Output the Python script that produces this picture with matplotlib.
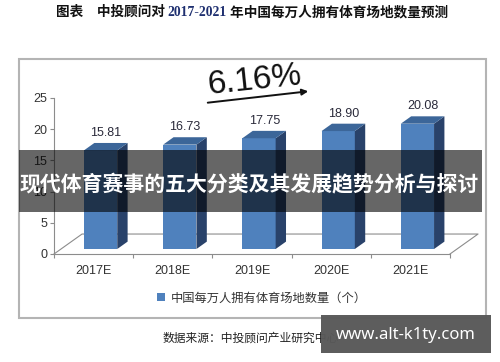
import numpy as np
import matplotlib
matplotlib.use('Agg')
import matplotlib.pyplot as plt
from matplotlib.patches import Polygon, Rectangle

plt.rcParams['font.family'] = ['Liberation Sans', 'Noto Sans CJK SC', 'DejaVu Sans']

# data
years = ['2017E', '2018E', '2019E', '2020E', '2021E']
venues = [15.81, 16.73, 17.75, 18.90, 20.08]
growth_label = '6.16%'
series_name = '中国每万人拥有体育场地数量（个）'
title_left = '图表　中投顾问对 '
title_mid = '2017-2021'
title_right = ' 年中国每万人拥有体育场地数量预测'
source_text = '数据来源：中投顾问产业研究中心'
banner_text = '现代体育赛事的五大分类及其发展趋势分析与探讨'
site_text = 'www.alt-k1ty.com'

W, H = 500, 362


def fx(px):
    return px / W


def fy(py):
    return 1 - py / H


fig = plt.figure(figsize=(5, 3.62), dpi=100)
fig.patch.set_facecolor('white')

# outer frame of the chart
fig.add_artist(Rectangle((fx(19), fy(318)), fx(486) - fx(19), fy(59) - fy(318),
                         transform=fig.transFigure, fill=False, ec='#b4b4b4', lw=1.5, zorder=0))

ax = fig.add_axes([fx(54), fy(254), fx(450) - fx(54), fy(98) - fy(254)])
ax.set_xlim(0, len(years))
ax.set_ylim(0, 25)
ax.patch.set_visible(False)

# fake 3d: depth of floor and position of bars inside it (data units)
dx, dy = 0.354, 3.2
f0, f1 = 0.25, 0.62
bw = 0.42
x = np.arange(len(years)) + 0.5
front_c, top_c, side_c = '#4f81bd', '#3c6699', '#29426a'
grey = '#8c8c8c'

# floor outline
ax.plot([0, dx, len(years) + dx, len(years)], [0, dy, dy, 0], color=grey, lw=0.8,
        clip_on=False, zorder=1)

bars = ax.bar(x + f0 * dx, venues, width=bw, bottom=f0 * dy, color=front_c,
              zorder=3, clip_on=False)
ddx, ddy = (f1 - f0) * dx, (f1 - f0) * dy
for b, v in zip(bars, venues):
    x0 = b.get_x()
    x1 = x0 + bw
    y0 = b.get_y()
    y1 = y0 + v
    ax.add_patch(Polygon([(x1, y0), (x1 + ddx, y0 + ddy), (x1 + ddx, y1 + ddy), (x1, y1)],
                         closed=True, fc=side_c, ec='none', zorder=3, clip_on=False))
    ax.add_patch(Polygon([(x0, y1), (x1, y1), (x1 + ddx, y1 + ddy), (x0 + ddx, y1 + ddy)],
                         closed=True, fc=top_c, ec='none', zorder=3, clip_on=False))
    ax.annotate(f'{v:.2f}', ((x0 + x1 + ddx) / 2, y1 + ddy), xytext=(0, 3),
                textcoords='offset points', ha='center', va='bottom',
                fontsize=9, color='#2a2a3a')

for s in ['top', 'right']:
    ax.spines[s].set_visible(False)
for s in ['left', 'bottom']:
    ax.spines[s].set_color(grey)
    ax.spines[s].set_linewidth(0.8)

ax.set_yticks(range(0, 26, 5))
ax.tick_params(axis='y', length=3, width=0.8, color=grey, labelcolor='#333333',
               labelsize=9, pad=2)
ax.set_xticks(x)
ax.set_xticklabels(years)
ax.set_xticks(np.arange(len(years) + 1), minor=True)
ax.tick_params(axis='x', which='major', length=0, pad=8, labelcolor='#333333', labelsize=9)
ax.tick_params(axis='x', which='minor', length=3, width=0.8, color=grey)

# growth note with arrow
fig.text(fx(254), fy(81), growth_label, ha='center', va='center', fontsize=24,
         rotation=6, color='#111111')
ax.annotate('', xy=(fx(311), fy(91)), xytext=(fx(205), fy(103)),
            xycoords='figure fraction', textcoords='figure fraction',
            arrowprops=dict(arrowstyle='-|>', color='#111111', lw=1.4, mutation_scale=9))

# legend
ax.legend([bars], [series_name], loc='center', bbox_to_anchor=(fx(262), fy(298)),
          bbox_transform=fig.transFigure, frameon=False, handlelength=0.6,
          handleheight=0.6, handletextpad=0.5,
          prop={'family': ['Noto Sans CJK SC'], 'size': 8.8}, labelcolor='#333333')

# title in three pieces (years in navy)
renderer = fig.canvas.get_renderer()
tfont = dict(fontsize=9.8, fontweight='bold', va='center', ha='left')
parts = [(title_left, '#111111', ['Noto Sans CJK SC']),
         (title_mid, '#1f3070', ['Liberation Serif']),
         (title_right, '#111111', ['Noto Sans CJK SC'])]
texts = []
for s, c, fam in parts:
    texts.append(fig.text(0, fy(12), s, color=c, family=fam, **tfont))
widths = [t.get_window_extent(renderer).width for t in texts]
xpos = 252 - sum(widths) / 2
for t, w in zip(texts, widths):
    t.set_x(fx(xpos))
    xpos += w

fig.text(fx(251), fy(338), source_text, ha='center', va='center', fontsize=8.5,
         color='#222222', family=['Noto Sans CJK SC'], fontweight='medium')

# overlay banner
fig.add_artist(Rectangle((fx(19), fy(212)), fx(482) - fx(19), fy(150) - fy(212),
                         transform=fig.transFigure, fc='black', alpha=0.6, ec='none', zorder=5))
fig.text(fx(249), fy(185), banner_text, ha='center', va='center', fontsize=15,
         fontweight='bold', color='white', family=['Noto Sans CJK SC'], zorder=6)

# site box bottom right
fig.add_artist(Rectangle((fx(321), fy(353)), fx(491) - fx(321), fy(315) - fy(353),
                         transform=fig.transFigure, fc='#585858', alpha=0.97, ec='none', zorder=5))
fig.text(fx(406), fy(335), site_text, ha='center', va='center', fontsize=12,
         fontweight='bold', color='white', family=['Noto Sans'], zorder=6)

fig.savefig('out.png', dpi=100)
